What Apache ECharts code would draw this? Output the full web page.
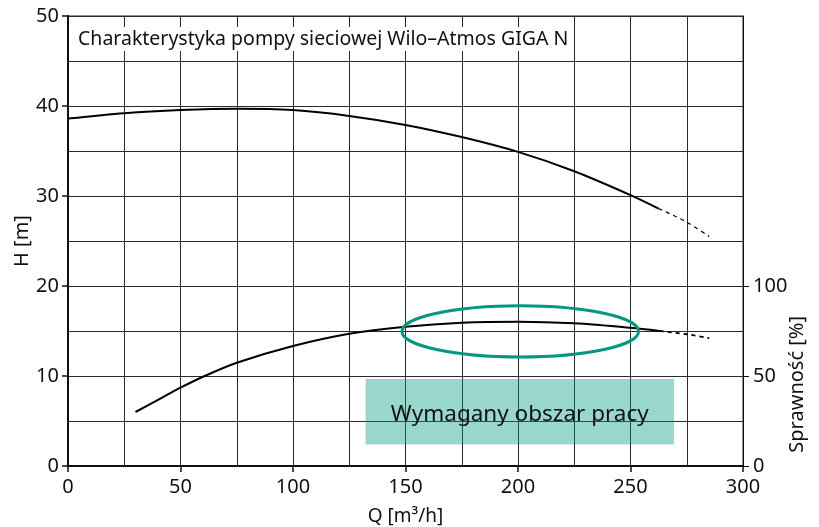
<!DOCTYPE html>
<html><head><meta charset="utf-8">
<script src="https://cdn.jsdelivr.net/npm/echarts@6/dist/echarts.min.js"></script>
<style>html,body{margin:0;padding:0;background:#fff}#c{width:819px;height:527px}</style>
</head><body><div id="c"></div>
<script>
// ---- data ----
const titleText = 'Charakterystyka pompy sieciowej Wilo–Atmos GIGA N';
const effTicks = [0, 50, 100];
// pump head curve H [m]
const qHead = [0, 25, 50, 75, 100, 125, 150, 175, 200, 225, 250, 262.5];
const head = [38.6, 39.2, 39.55, 39.7, 39.55, 38.9, 37.9, 36.55, 34.9, 32.75, 30.1, 28.6];
const qHeadDash = [262.5, 275, 285];
const headDash = [28.6, 27.1, 25.5];
// efficiency curve [%]
const qEff = [30, 40, 50, 60, 75, 100, 125, 150, 175, 200, 225, 250, 263];
const eff = [30, 36.7, 43.5, 49.6, 57.4, 66.7, 73.5, 77.4, 79.6, 80.2, 79.3, 76.8, 75];
const qEffDash = [263, 275, 285];
const effDash = [75, 73.2, 71];
// optimal region ellipse: [centerQ, centerH, radiusQ, radiusH]
const ellipse = [201, 14.95, 52.6, 2.85];
// required working area: [q1, h1, q2, h2]
const workArea = [132.3, 2.4, 269.3, 9.67];
const workLabel = 'Wymagany obszar pracy';

const FONT = 'Noto Sans';
const pairs = (xs, ys) => xs.map((x, i) => [x, ys[i]]);
const gridLine = {show: true, lineStyle: {color: '#2a2a2a', width: 1}};

const chart = echarts.init(document.getElementById('c'), null, {renderer: 'canvas'});
chart.setOption({
  animation: false,
  textStyle: {fontFamily: FONT},
  title: {
    text: titleText, left: 74, top: 27,
    padding: [2, 4, 2, 4],
    backgroundColor: '#fff',
    textStyle: {fontFamily: FONT, fontSize: 19.5, fontWeight: 'normal', color: '#111'}
  },
  grid: {left: 68, top: 16, width: 675, height: 450, show: true, borderColor: '#222', borderWidth: 1,
         backgroundColor: 'transparent', containLabel: false, outerBoundsMode: 'none'},
  xAxis: {
    type: 'value', min: 0, max: 300, interval: 50,
    name: 'Q [m³/h]', nameLocation: 'middle', nameGap: 41, nameMoveOverlap: false,
    nameTextStyle: {fontSize: 19, color: '#111', fontFamily: FONT},
    axisLine: {lineStyle: {color: '#111', width: 2}},
    axisTick: {length: 6, lineStyle: {color: '#111', width: 1.5}},
    axisLabel: {fontSize: 20, color: '#111', margin: 11, fontFamily: FONT},
    splitLine: gridLine,
    minorTick: {show: false, splitNumber: 2},
    minorSplitLine: gridLine
  },
  yAxis: [{
    type: 'value', min: 0, max: 50, interval: 10,
    name: 'H [m]', nameLocation: 'middle', nameGap: 36, nameRotate: 90, nameMoveOverlap: false,
    nameTextStyle: {fontSize: 20, color: '#111', fontFamily: FONT},
    axisLine: {show: true, lineStyle: {color: '#111', width: 2}},
    axisTick: {show: true, length: 6, lineStyle: {color: '#111', width: 1.5}},
    axisLabel: {fontSize: 20, color: '#111', margin: 9, fontFamily: FONT},
    splitLine: gridLine,
    minorTick: {show: false, splitNumber: 2},
    minorSplitLine: gridLine
  }, {
    type: 'value', min: 0, max: 250, interval: 50, position: 'right',
    axisLine: {show: true, lineStyle: {color: '#111', width: 1}},
    axisTick: {show: true, customValues: effTicks, length: 6, lineStyle: {color: '#111', width: 1}},
    axisLabel: {customValues: effTicks, fontSize: 20, color: '#111', margin: 10, fontFamily: FONT},
    splitLine: {show: false}
  }],
  graphic: [{
    type: 'text', left: 787, top: 316, rotation: Math.PI / 2,
    style: {text: 'Sprawność [%]', font: '20px "Noto Sans"', fill: '#111'}
  }],
  series: [
    {type: 'custom', yAxisIndex: 0, z: 1, silent: true,
     data: [workArea],
     renderItem: (params, api) => {
       const p1 = api.coord([api.value(0), api.value(3)]);
       const p2 = api.coord([api.value(2), api.value(1)]);
       return {type: 'group', children: [
         {type: 'rect', shape: {x: p1[0], y: p1[1], width: p2[0] - p1[0], height: p2[1] - p1[1]},
          style: {fill: 'rgba(0,152,128,0.4)'}},
         {type: 'text', x: (p1[0] + p2[0]) / 2, y: (p1[1] + p2[1]) / 2 + 3,
          style: {text: workLabel, font: '22.5px "Noto Sans"', fill: '#111', align: 'center', verticalAlign: 'middle'}}
       ]};
     }},
    {type: 'line', yAxisIndex: 0, data: pairs(qHead, head), smooth: 0.3, showSymbol: false, z: 3,
     lineStyle: {color: '#000', width: 2}},
    {type: 'line', yAxisIndex: 0, data: pairs(qHeadDash, headDash), smooth: 0.3, showSymbol: false, z: 3,
     lineStyle: {color: '#000', width: 1.2, type: [4, 4]}},
    {type: 'line', yAxisIndex: 1, data: pairs(qEff, eff), smooth: 0.3, showSymbol: false, z: 3,
     lineStyle: {color: '#000', width: 2}},
    {type: 'line', yAxisIndex: 1, data: pairs(qEffDash, effDash), smooth: 0.3, showSymbol: false, z: 3,
     lineStyle: {color: '#000', width: 1.8, type: [4, 4]}},
    {type: 'custom', yAxisIndex: 0, z: 4, silent: true,
     data: [ellipse],
     renderItem: (params, api) => {
       const c = api.coord([api.value(0), api.value(1)]);
       const s = api.size([api.value(2), api.value(3)]);
       return {type: 'ellipse', shape: {cx: c[0], cy: c[1], rx: s[0], ry: s[1]},
               style: {fill: 'none', stroke: '#00987f', lineWidth: 3}};
     }}
  ]
});
</script></body></html>
